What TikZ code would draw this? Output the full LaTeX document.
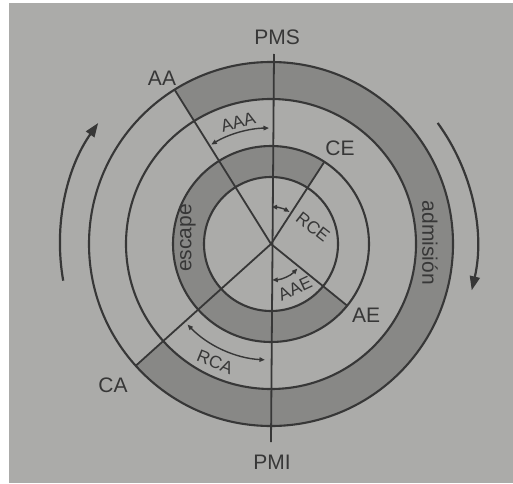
\documentclass[tikz,border=0pt]{standalone}
\usepackage{fontspec}
\setmainfont{Liberation Sans}
\usetikzlibrary{arrows.meta}
\definecolor{bg}{RGB}{171,171,169}
\definecolor{band}{RGB}{136,136,134}
\definecolor{ink}{RGB}{55,55,55}
\begin{document}
\begin{tikzpicture}[x=1pt,y=1pt,
  ring/.style={draw=ink, line width=2.1pt},
  ray/.style={draw=ink, line width=1.8pt},
  big/.style={text=ink, font=\fontsize{21}{21}\selectfont, inner sep=0pt},
  small/.style={text=ink, font=\fontsize{17.5}{17.5}\selectfont, inner sep=0pt},
  dim/.style={draw=ink, line width=1.4pt, {Triangle[length=5.5pt,width=4.5pt]}-{Triangle[length=5.5pt,width=4.5pt]}},
  turn/.style={draw=ink, line width=2.2pt, -{Triangle[length=14pt,width=10pt]}},
]
\useasboundingbox (0,0) rectangle (513,483);
\fill[white] (0,0) rectangle (513,483);
\fill[bg] (9,0) rectangle (513,480);
\coordinate (O) at (271,239);
\begin{scope}[shift={(O)}]
  % shaded bands
  \fill[band] (-138:182) arc[start angle=-138,end angle=122,radius=182]
     -- (122:145) arc[start angle=122,end angle=-138,radius=145] -- cycle;
  \fill[band] (57:98) arc[start angle=57,end angle=321,radius=98]
     -- (321:67) arc[start angle=321,end angle=57,radius=67] -- cycle;
  % rings
  \draw[ring] (0,0) circle[radius=67];
  \draw[ring] (0,0) circle[radius=98];
  \draw[ring] (0,0) circle[radius=145];
  \draw[ring] (0,0) circle[radius=182];
  % ray ends
  \coordinate (top) at (3,190);
  \coordinate (bot) at (0,-198);
  \coordinate (aaP) at (122:182);
  \coordinate (caP) at (222:182);
  \coordinate (ceP) at (57:98);
  \coordinate (aeP) at (-39:98);
  % dimension arcs
  \draw[dim] (121:116) arc[start angle=121,end angle=91,radius=116];
  \draw[dim] (89:37) arc[start angle=89,end angle=60,radius=37];
  \draw[dim] (-88:36) arc[start angle=-88,end angle=-43,radius=36];
  \draw[dim] (224:116) arc[start angle=224,end angle=267,radius=116];
  % rotation arrows
  \draw[turn] (190:211) arc[start angle=190,end angle=145,radius=211];
  \draw[turn] (36:206) arc[start angle=36,end angle=-13,radius=206];
\end{scope}
\draw[ray] (top) -- (bot);
\draw[ray] (O) -- (aaP);
\draw[ray] (O) -- (caP);
\draw[ray] (O) -- (ceP);
\draw[ray] (O) -- (aeP);
% labels
\node[big] (pms) at (277,446) {PMS};
\node[big] (pmi) at (272,21) {PMI};
\node[big] (aa) at (162,405) {AA};
\node[big] (ce) at (340,335) {CE};
\node[big] (ae) at (366,168) {AE};
\node[big] (ca) at (113,98) {CA};
\node[big, rotate=90] (esc) at (188,245) {escape};
\node[big, rotate=-90] (adm) at (430,240) {admisión};
\node[small, rotate=16] (aaa) at (238,361) {AAA};
\node[small, rotate=-38] (rce) at (313,256) {RCE};
\node[small, rotate=25] (aae) at (295,194) {AAE};
\node[small, rotate=-22] (rca) at (215,121) {RCA};
\end{tikzpicture}
\end{document}
